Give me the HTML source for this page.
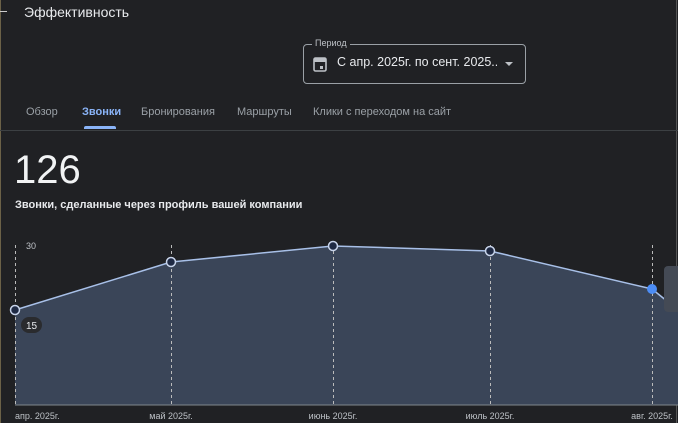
<!DOCTYPE html>
<html><head><meta charset="utf-8"><style>
body{margin:0;width:678px;height:423px;background:#202124;overflow:hidden;font-family:"Liberation Sans",sans-serif;position:relative;color:#e8eaed}
.a{position:absolute;white-space:nowrap}
</style></head><body>
<div class="a" style="left:0;top:0;width:1px;height:423px;background:#6b6147"></div>
<div class="a" style="left:676px;top:0;width:1px;height:423px;background:#555"></div>
<div class="a" style="left:0;top:11px;width:7px;height:1px;background:#ccc"></div>
<div class="a" style="left:24px;top:4px;font-size:14px;color:#e8eaed">Эффективность</div>
<div class="a" style="left:303px;top:44px;width:221px;height:38px;border:1px solid #9aa0a6;border-radius:4px"></div>
<div class="a" style="left:312px;top:38px;font-size:9px;color:#bdc1c6;background:#202124;padding:0 3px">Период</div>
<svg class="a" style="left:313px;top:56px" width="14" height="16" viewBox="0 0 14 16"><rect x="1" y="2" width="12" height="13" rx="1.5" fill="none" stroke="#bdc1c6" stroke-width="1.6"/><rect x="1" y="2" width="12" height="4" fill="#bdc1c6"/><rect x="7" y="10" width="3" height="3" fill="#bdc1c6"/></svg>
<div class="a" style="left:337px;top:55px;font-size:12.5px;color:#e8eaed;width:160px;overflow:hidden">С апр. 2025г. по сент. 2025...</div>
<div class="a" style="left:505px;top:62px;width:0;height:0;border-left:4px solid transparent;border-right:4px solid transparent;border-top:4px solid #bdc1c6"></div>
<div class="a" style="left:26px;top:106px;font-size:11px;color:#9aa0a6">Обзор</div>
<div class="a" style="left:82px;top:106px;font-size:11px;color:#8ab4f8;font-weight:bold">Звонки</div>
<div class="a" style="left:84px;top:126px;width:32px;height:3px;background:#8ab4f8;border-radius:2px 2px 0 0"></div>
<div class="a" style="left:141px;top:106px;font-size:11px;color:#9aa0a6">Бронирования</div>
<div class="a" style="left:237px;top:106px;font-size:11px;color:#9aa0a6">Маршруты</div>
<div class="a" style="left:313px;top:106px;font-size:11px;color:#9aa0a6">Клики с переходом на сайт</div>
<div class="a" style="left:0;top:130px;width:678px;height:1px;background:#3c4043"></div>
<div class="a" style="left:14px;top:148px;font-size:40px;color:#f1f3f4">126</div>
<div class="a" style="left:15px;top:199px;font-size:11px;color:#e8eaed;font-weight:bold">Звонки, сделанные через профиль вашей компании</div>
<svg class="a" style="left:0;top:0" width="678" height="423">
<polygon points="15,310 171,262 333,246 490,251 652,289 678,310 678,405 15,405" fill="#3a4558"/>
<g stroke="#bbb" stroke-dasharray="3,3" stroke-width="1">
<line x1="15.5" y1="245" x2="15.5" y2="405"/><line x1="171.5" y1="245" x2="171.5" y2="405"/><line x1="333.5" y1="245" x2="333.5" y2="405"/><line x1="490.5" y1="245" x2="490.5" y2="405"/><line x1="652.5" y1="245" x2="652.5" y2="405"/></g>
<line x1="15" y1="405" x2="678" y2="405" stroke="#80868b" stroke-width="1"/>
<polyline points="15,310 171,262 333,246 490,251 652,289 678,310" fill="none" stroke="#a8c0e8" stroke-width="1.5"/>
<g fill="#1f2a44" stroke="#c8d4ea" stroke-width="1.5">
<circle cx="15" cy="310" r="4.5"/><circle cx="171" cy="262" r="4.5"/><circle cx="333" cy="246" r="4.5"/><circle cx="490" cy="251" r="4.5"/></g>
<circle cx="652" cy="289" r="5" fill="#4c8df6"/>
<rect x="664" y="266" width="20" height="46" rx="4" fill="#444a55"/>
<rect x="21" y="317" width="21" height="16" rx="8" fill="#2a2b2e"/>
<text x="31.5" y="329" font-size="10" fill="#e8eaed" text-anchor="middle" font-family="Liberation Sans">15</text>
<text x="26" y="249" font-size="9" fill="#bdc1c6" font-family="Liberation Sans">30</text>
<g font-size="9" fill="#bdc1c6" font-family="Liberation Sans">
<text x="15" y="419">апр. 2025г.</text>
<text x="171" y="419" text-anchor="middle">май 2025г.</text>
<text x="333" y="419" text-anchor="middle">июнь 2025г.</text>
<text x="490" y="419" text-anchor="middle">июль 2025г.</text>
<text x="652" y="419" text-anchor="middle">авг. 2025г.</text></g>
</svg>
</body></html>
